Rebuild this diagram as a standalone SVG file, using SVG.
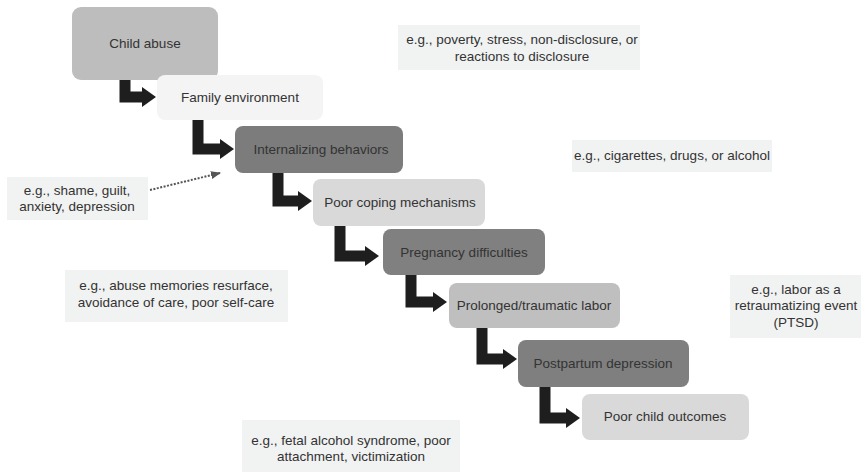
<svg xmlns="http://www.w3.org/2000/svg" width="865" height="473" viewBox="0 0 865 473">
<style>
text{font-family:"Liberation Sans",Arial,sans-serif;font-size:13.5px;fill:#333;text-anchor:middle}
.n{stroke:none}
.note{fill:#f1f2f2}
.c{fill:none;stroke:#1e1e1e;stroke-width:11;stroke-linejoin:miter;marker-end:url(#ah)}
</style>
<defs>
<marker id="ah" markerUnits="userSpaceOnUse" markerWidth="14" markerHeight="20" refX="0" refY="10" orient="auto">
<path d="M0,0 L14,10 L0,20 z" fill="#1e1e1e"/>
</marker>
<marker id="ah2" markerUnits="userSpaceOnUse" markerWidth="10" markerHeight="8" refX="9" refY="4" orient="auto">
<path d="M0,0 L10,4 L0,8 z" fill="#555"/>
</marker>
</defs>
<rect width="865" height="473" fill="#fff"/>
<g id="notes">
<g id="note-family"><rect class="note" x="398" y="25" width="242" height="45"/><text x="522" y="44">e.g., poverty, stress, non-disclosure, or</text><text x="522" y="61">reactions to disclosure</text></g>
<g id="note-substances"><rect class="note" x="572" y="140" width="200" height="32"/><text x="672" y="160">e.g., cigarettes, drugs, or alcohol</text></g>
<g id="note-internal"><rect class="note" x="7" y="177" width="141" height="43"/><text x="77" y="195">e.g., shame, guilt,</text><text x="77" y="211">anxiety, depression</text></g>
<g id="note-pregnancy"><rect class="note" x="65" y="270" width="223" height="52"/><text x="176" y="290">e.g., abuse memories resurface,</text><text x="176" y="307">avoidance of care, poor self-care</text></g>
<g id="note-labor"><rect class="note" x="730" y="275" width="131" height="63"/><text x="796" y="294">e.g., labor as a</text><text x="796" y="310">retraumatizing event</text><text x="796" y="327">(PTSD)</text></g>
<g id="note-outcomes"><rect class="note" x="242" y="420" width="218" height="52"/><text x="351" y="445">e.g., fetal alcohol syndrome, poor</text><text x="351" y="461">attachment, victimization</text></g>
</g>
<g id="connectors">
<path class="c" d="M125,80 V97 H142"/>
<path class="c" d="M198,120 V149 H220"/>
<path class="c" d="M278,173 V201 H298"/>
<path class="c" d="M340,226 V256 H365"/>
<path class="c" d="M411,275 V302 H433"/>
<path class="c" d="M482,328 V359 H503"/>
<path class="c" d="M545,387 V418 H566"/>
<path d="M150,190 L220,173" fill="none" stroke="#555" stroke-width="2" stroke-dasharray="2,1.5" marker-end="url(#ah2)"/>
</g>
<g id="n1"><rect class="n" x="72" y="7" width="146" height="73" rx="9" fill="#bdbdbd"/><text x="145" y="48">Child abuse</text></g>
<g id="n2"><rect class="n" x="157" y="75" width="166" height="45" rx="8" fill="#f4f4f4"/><text x="240" y="102">Family environment</text></g>
<g id="n3"><rect class="n" x="235" y="126" width="168" height="47" rx="8" fill="#7c7c7c"/><text x="321" y="154">Internalizing behaviors</text></g>
<g id="n4"><rect class="n" x="313" y="179" width="172" height="47" rx="8" fill="#d9d9d9"/><text x="400" y="207">Poor coping mechanisms</text></g>
<g id="n5"><rect class="n" x="383" y="229" width="162" height="46" rx="8" fill="#808080"/><text x="464" y="257">Pregnancy difficulties</text></g>
<g id="n6"><rect class="n" x="449" y="283" width="171" height="45" rx="8" fill="#bfbfbf"/><text x="534" y="310">Prolonged/traumatic labor</text></g>
<g id="n7"><rect class="n" x="518" y="340" width="171" height="47" rx="8" fill="#7f7f7f"/><text x="603" y="368">Postpartum depression</text></g>
<g id="n8"><rect class="n" x="582" y="394" width="167" height="46" rx="8" fill="#d9d9d9"/><text x="665" y="421">Poor child outcomes</text></g>
</svg>
